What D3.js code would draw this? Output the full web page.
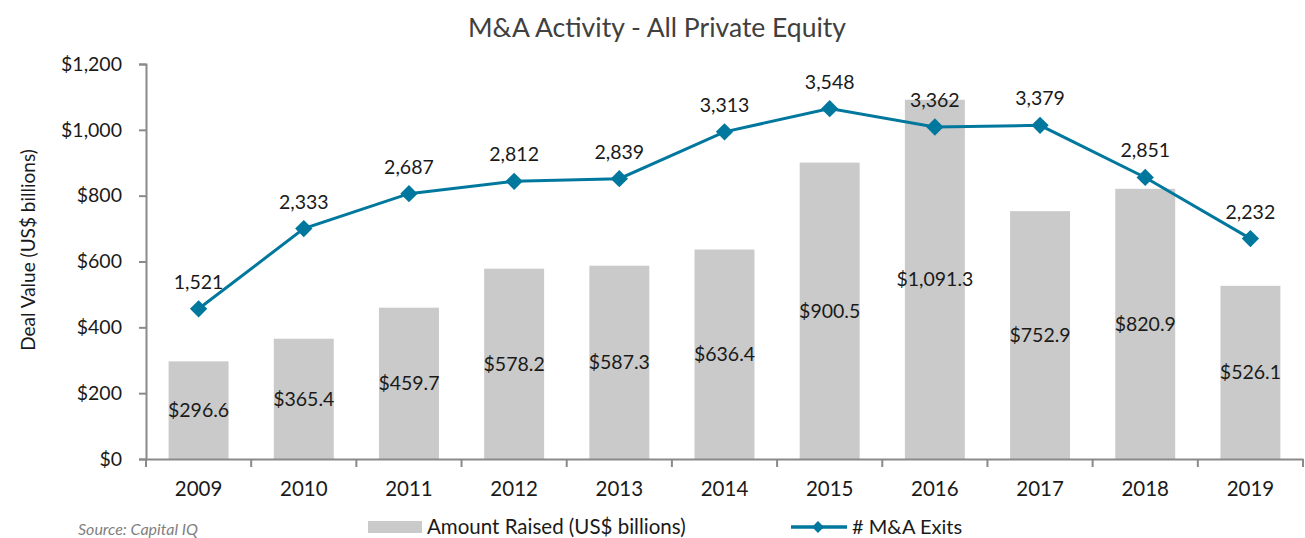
<!DOCTYPE html>
<html>
<head>
<meta charset="utf-8">
<script src="https://cdn.jsdelivr.net/npm/d3@7"></script>
<style>
  body { margin:0; background:#fff; }
  svg { display:block; font-family: Lato, "Open Sans", sans-serif; }
</style>
</head>
<body>
<svg id="chart"></svg>
<script>
const years = ["2009","2010","2011","2012","2013","2014","2015","2016","2017","2018","2019"];
const amountRaised = [296.6,365.4,459.7,578.2,587.3,636.4,900.5,1091.3,752.9,820.9,526.1];
const exits = [1521,2333,2687,2812,2839,3313,3548,3362,3379,2851,2232];
const yTicks = [0,200,400,600,800,1000,1200];

const BAR = "#c9cac9";
const LINE = "#00789e";
const AXIS = "#8a8a8a";

const W = 1305, H = 538;
const margin = {top:64, right:2, bottom:79, left:146};
const innerW = W - margin.left - margin.right;
const innerH = H - margin.top - margin.bottom;

const svg = d3.select("#chart")
  .attr("width",W)
  .attr("height",H)
  .attr("viewBox",`0 0 ${W} ${H}`);

const g = svg.append("g")
  .attr("transform",`translate(${margin.left},${margin.top})`);

const x = d3.scaleBand()
  .domain(years)
  .range([0,innerW])
  .padding(0);

const barW = x.bandwidth()*0.57;

const y = d3.scaleLinear()
  .domain([0,1200])
  .range([innerH,0]);

// hidden secondary axis for the exits line
const y2 = d3.scaleLinear()
  .domain([0,4000])
  .range([innerH,0]);

// bars
g.selectAll(".bar")
  .data(years)
  .join("rect")
  .attr("class","bar")
  .attr("x",(d)=>x(d)+x.bandwidth()/2-barW/2)
  .attr("width",barW)
  .attr("y",(d,i)=>y(amountRaised[i]))
  .attr("height",(d,i)=>y(0)-y(amountRaised[i]))
  .attr("fill",BAR);

// bar labels
g.selectAll(".barlabel")
  .data(years)
  .join("text")
  .attr("class","barlabel")
  .attr("x",(d)=>x(d)+x.bandwidth()/2)
  .attr("y",(d,i)=>y(amountRaised[i]/2))
  .attr("dy","0.35em")
  .attr("text-anchor","middle")
  .attr("font-size",19.5)
  .attr("fill","#1a1a1a")
  .text((d,i)=>"$"+d3.format(",.1f")(amountRaised[i]));

// y axis
const yAxis = g.append("g")
  .call(
    d3.axisLeft(y)
      .tickValues(yTicks)
      .tickSize(7)
      .tickPadding(17)
      .tickFormat(d=>"$"+d3.format(",")(d))
  );
yAxis.select(".domain").attr("stroke",AXIS).attr("stroke-width",2);
yAxis.selectAll(".tick line").attr("stroke",AXIS).attr("stroke-width",2);
yAxis.selectAll(".tick text")
  .attr("font-size",19.5)
  .attr("fill","#1a1a1a")
  .attr("font-family","Lato, sans-serif");

// x axis
const xAxis = g.append("g")
  .attr("transform",`translate(0,${innerH})`)
  .call(
    d3.axisBottom(x)
      .tickSize(0)
      .tickPadding(22)
  );
xAxis.select(".domain").attr("stroke",AXIS).attr("stroke-width",2);
xAxis.selectAll(".tick text")
  .attr("font-size",20.5)
  .attr("fill","#1a1a1a")
  .attr("font-family","Lato, sans-serif");

const edges = years.map(d=>x(d)).concat([x.range()[1]]);
g.selectAll(".xtick")
  .data(edges)
  .join("line")
  .attr("x1",d=>d)
  .attr("x2",d=>d)
  .attr("y1",innerH)
  .attr("y2",innerH+8)
  .attr("stroke",AXIS)
  .attr("stroke-width",2);

// exits line
const line = d3.line()
  .x((d,i)=>x(years[i])+x.bandwidth()/2)
  .y(d=>y2(d));

g.append("path")
  .datum(exits)
  .attr("d",line)
  .attr("fill","none")
  .attr("stroke",LINE)
  .attr("stroke-width",3);

const diamond = d3.symbol().type(d3.symbolSquare).size(150);

g.selectAll(".pt")
  .data(exits)
  .join("path")
  .attr("class","pt")
  .attr("d",diamond)
  .attr("transform",(d,i)=>`translate(${x(years[i])+x.bandwidth()/2},${y2(d)}) rotate(45)`)
  .attr("fill",LINE);

g.selectAll(".ptlabel")
  .data(exits)
  .join("text")
  .attr("class","ptlabel")
  .attr("x",(d,i)=>x(years[i])+x.bandwidth()/2)
  .attr("y",d=>y2(d)-20)
  .attr("text-anchor","middle")
  .attr("font-size",19.5)
  .attr("fill","#1a1a1a")
  .text(d=>d3.format(",")(d));

// title
svg.append("text")
  .attr("x",657)
  .attr("y",37)
  .attr("text-anchor","middle")
  .attr("font-size",26.5)
  .attr("fill","#404040")
  .text("M&A Activity - All Private Equity");

// y axis title
svg.append("text")
  .attr("transform","translate(28,250) rotate(-90)")
  .attr("text-anchor","middle")
  .attr("dy","0.35em")
  .attr("font-size",19)
  .attr("fill","#1a1a1a")
  .text("Deal Value (US$ billions)");

// legend
const leg = svg.append("g").attr("transform","translate(0,527)");
leg.append("rect")
  .attr("x",368).attr("y",-6).attr("width",54).attr("height",12)
  .attr("fill",BAR);
leg.append("text")
  .attr("x",427).attr("y",0).attr("dy","0.35em")
  .attr("font-size",20.5).attr("fill","#1a1a1a")
  .text("Amount Raised (US$ billions)");
leg.append("line")
  .attr("x1",791).attr("x2",847).attr("y1",0).attr("y2",0)
  .attr("stroke",LINE).attr("stroke-width",3.5);
leg.append("path")
  .attr("d",d3.symbol().type(d3.symbolSquare).size(70))
  .attr("transform","translate(818,0) rotate(45)")
  .attr("fill",LINE);
leg.append("text")
  .attr("x",852).attr("y",0).attr("dy","0.35em")
  .attr("font-size",20).attr("fill","#1a1a1a")
  .text("# M&A Exits");

// source
svg.append("text")
  .attr("x",78).attr("y",535)
  .attr("font-size",16)
  .attr("font-style","italic")
  .attr("fill","#7f7f7f")
  .text("Source: Capital IQ");
</script>
</body>
</html>
